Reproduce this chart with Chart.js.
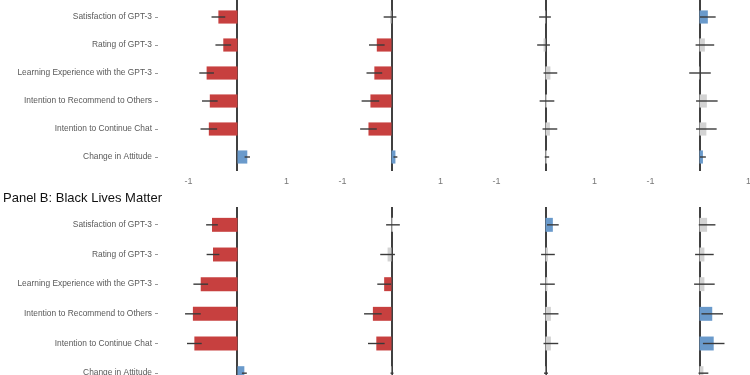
<!DOCTYPE html>
<html>
<head>
<meta charset="utf-8">
<script src="https://cdn.jsdelivr.net/npm/chart.js@4.4.0/dist/chart.umd.min.js"></script>
<style>
  html, body { margin: 0; padding: 0; background: #fff; }
  #wrap { position: relative; width: 750px; height: 375px; overflow: hidden; background: #fff; }
  #wrap canvas { position: absolute; }
  #titleB { position: absolute; left: 3px; top: 190px; font: 13px "Liberation Sans", Arial, sans-serif; color: #111; white-space: nowrap; }
</style>
</head>
<body>
<div id="wrap">
  <canvas id="a1" width="311" height="191" style="left:0;top:0"></canvas>
  <canvas id="a2" width="147" height="191" style="left:318px;top:0"></canvas>
  <canvas id="a3" width="147" height="191" style="left:472px;top:0"></canvas>
  <canvas id="a4" width="147" height="191" style="left:626px;top:0"></canvas>
  <div id="titleB">Panel B: Black Lives Matter</div>
  <canvas id="b1" width="311" height="201" style="left:0;top:207px"></canvas>
  <canvas id="b2" width="147" height="201" style="left:318px;top:207px"></canvas>
  <canvas id="b3" width="147" height="201" style="left:472px;top:207px"></canvas>
  <canvas id="b4" width="147" height="201" style="left:626px;top:207px"></canvas>
</div>
<script>
// outcomes (rows, top to bottom)
const categories = [
  'Satisfaction of GPT-3',
  'Rating of GPT-3',
  'Learning Experience with the GPT-3',
  'Intention to Recommend to Others',
  'Intention to Continue Chat',
  'Change in Attitude'
];

// Panel A: estimates and half-width of the interval, one pair per column
const a1Mean = [-0.39, -0.29, -0.63, -0.565, -0.585, 0.20];
const a1Ci   = [0.14, 0.16, 0.15, 0.16, 0.17, 0.055];
const a2Mean = [-0.03, -0.30, -0.35, -0.43, -0.47, 0.08];
const a2Ci   = [0.13, 0.16, 0.16, 0.18, 0.17, 0.04];
const a3Mean = [-0.01, -0.04, 0.10, 0.03, 0.09, 0.03];
const a3Ci   = [0.12, 0.13, 0.14, 0.15, 0.15, 0.045];
const a4Mean = [0.17, 0.11, 0.01, 0.15, 0.14, 0.07];
const a4Ci   = [0.16, 0.19, 0.22, 0.22, 0.21, 0.06];

// Panel B: Black Lives Matter
const b1Mean = [-0.52, -0.50, -0.75, -0.91, -0.88, 0.14];
const b1Ci   = [0.12, 0.13, 0.15, 0.16, 0.15, 0.05];
const b2Mean = [0.03, -0.08, -0.15, -0.38, -0.31, 0.01];
const b2Ci   = [0.14, 0.15, 0.14, 0.18, 0.17, 0.03];
const b3Mean = [0.15, 0.05, 0.04, 0.11, 0.11, 0.01];
const b3Ci   = [0.12, 0.14, 0.15, 0.155, 0.15, 0.04];
const b4Mean = [0.155, 0.10, 0.10, 0.26, 0.29, 0.08];
const b4Ci   = [0.17, 0.19, 0.21, 0.22, 0.22, 0.10];

const xTicks = [-1, 0, 1];

const RED = '#c7403f', BLUE = '#6a9acb', GREY = '#d3d3d3';
const FONT = '"Liberation Sans", Arial, sans-serif';

function barColor(m, c) {
  if (m - c > 0) return BLUE;
  if (m + c < 0) return RED;
  return GREY;
}

// zero reference line, a little taller than the rows (like ggplot's expand)
const zeroLine = {
  id: 'zeroLine',
  beforeDatasetsDraw(chart) {
    const x = Math.round(chart.scales.x.getPixelForValue(0));
    const { top, bottom } = chart.chartArea;
    const ctx = chart.ctx;
    ctx.save();
    ctx.strokeStyle = '#000';
    ctx.lineWidth = 1.5;
    ctx.beginPath();
    ctx.moveTo(x, top - 3);
    ctx.lineTo(x, bottom);
    ctx.stroke();
    ctx.restore();
  }
};

// draws the interval as a plain horizontal line through each bar
const errorBars = {
  id: 'errorBars',
  afterDatasetsDraw(chart) {
    const ds = chart.data.datasets[0];
    const meta = chart.getDatasetMeta(0);
    const x = chart.scales.x;
    const ctx = chart.ctx;
    ctx.save();
    ctx.strokeStyle = '#3a3a3a';
    ctx.lineWidth = 1.4;
    meta.data.forEach((bar, i) => {
      const m = ds.data[i], c = ds.ci[i];
      ctx.beginPath();
      ctx.moveTo(x.getPixelForValue(m - c), bar.y);
      ctx.lineTo(x.getPixelForValue(m + c), bar.y);
      ctx.stroke();
    });
    ctx.restore();
  }
};

function makeChart(id, mean, ci, withLabels) {
  new Chart(document.getElementById(id), {
    type: 'bar',
    data: {
      labels: categories,
      datasets: [{
        data: mean,
        ci: ci,
        backgroundColor: mean.map((m, i) => barColor(m, ci[i])),
        barPercentage: 0.47,
        categoryPercentage: 1
      }]
    },
    options: {
      indexAxis: 'y',
      responsive: false,
      animation: false,
      layout: { padding: { top: 3, left: 0, right: 0, bottom: 0 } },
      plugins: { legend: { display: false }, tooltip: { enabled: false } },
      scales: {
        x: {
          min: withLabels ? -1.622 : -1.5,
          max: 1.5,
          border: { display: false },
          afterBuildTicks: s => { s.ticks = xTicks.map(v => ({ value: v })); },
          afterFit: s => {
            s.height = 20;
            s.paddingLeft = 0; s.paddingRight = 0;
          },
          grid: { display: false, drawTicks: false },
          ticks: {
            autoSkip: false,
            maxRotation: 0,
            padding: 5,
            color: '#777',
            font: { family: FONT, size: 9 },
            callback: v => v === 0 ? '' : String(v)
          }
        },
        y: {
          display: withLabels,
          border: { display: false },
          afterFit: s => {
            if (withLabels) s.width = 158;
            s.paddingTop = 0; s.paddingBottom = 0;
          },
          grid: {
            offset: false,
            drawOnChartArea: false,
            drawTicks: true,
            tickLength: 3,
            color: '#999'
          },
          ticks: {
            padding: 3,
            color: '#595959',
            font: { family: FONT, size: 8.4 }
          }
        }
      }
    },
    plugins: [zeroLine, errorBars]
  });
}

makeChart('a1', a1Mean, a1Ci, true);
makeChart('a2', a2Mean, a2Ci, false);
makeChart('a3', a3Mean, a3Ci, false);
makeChart('a4', a4Mean, a4Ci, false);
makeChart('b1', b1Mean, b1Ci, true);
makeChart('b2', b2Mean, b2Ci, false);
makeChart('b3', b3Mean, b3Ci, false);
makeChart('b4', b4Mean, b4Ci, false);
</script>
</body>
</html>
